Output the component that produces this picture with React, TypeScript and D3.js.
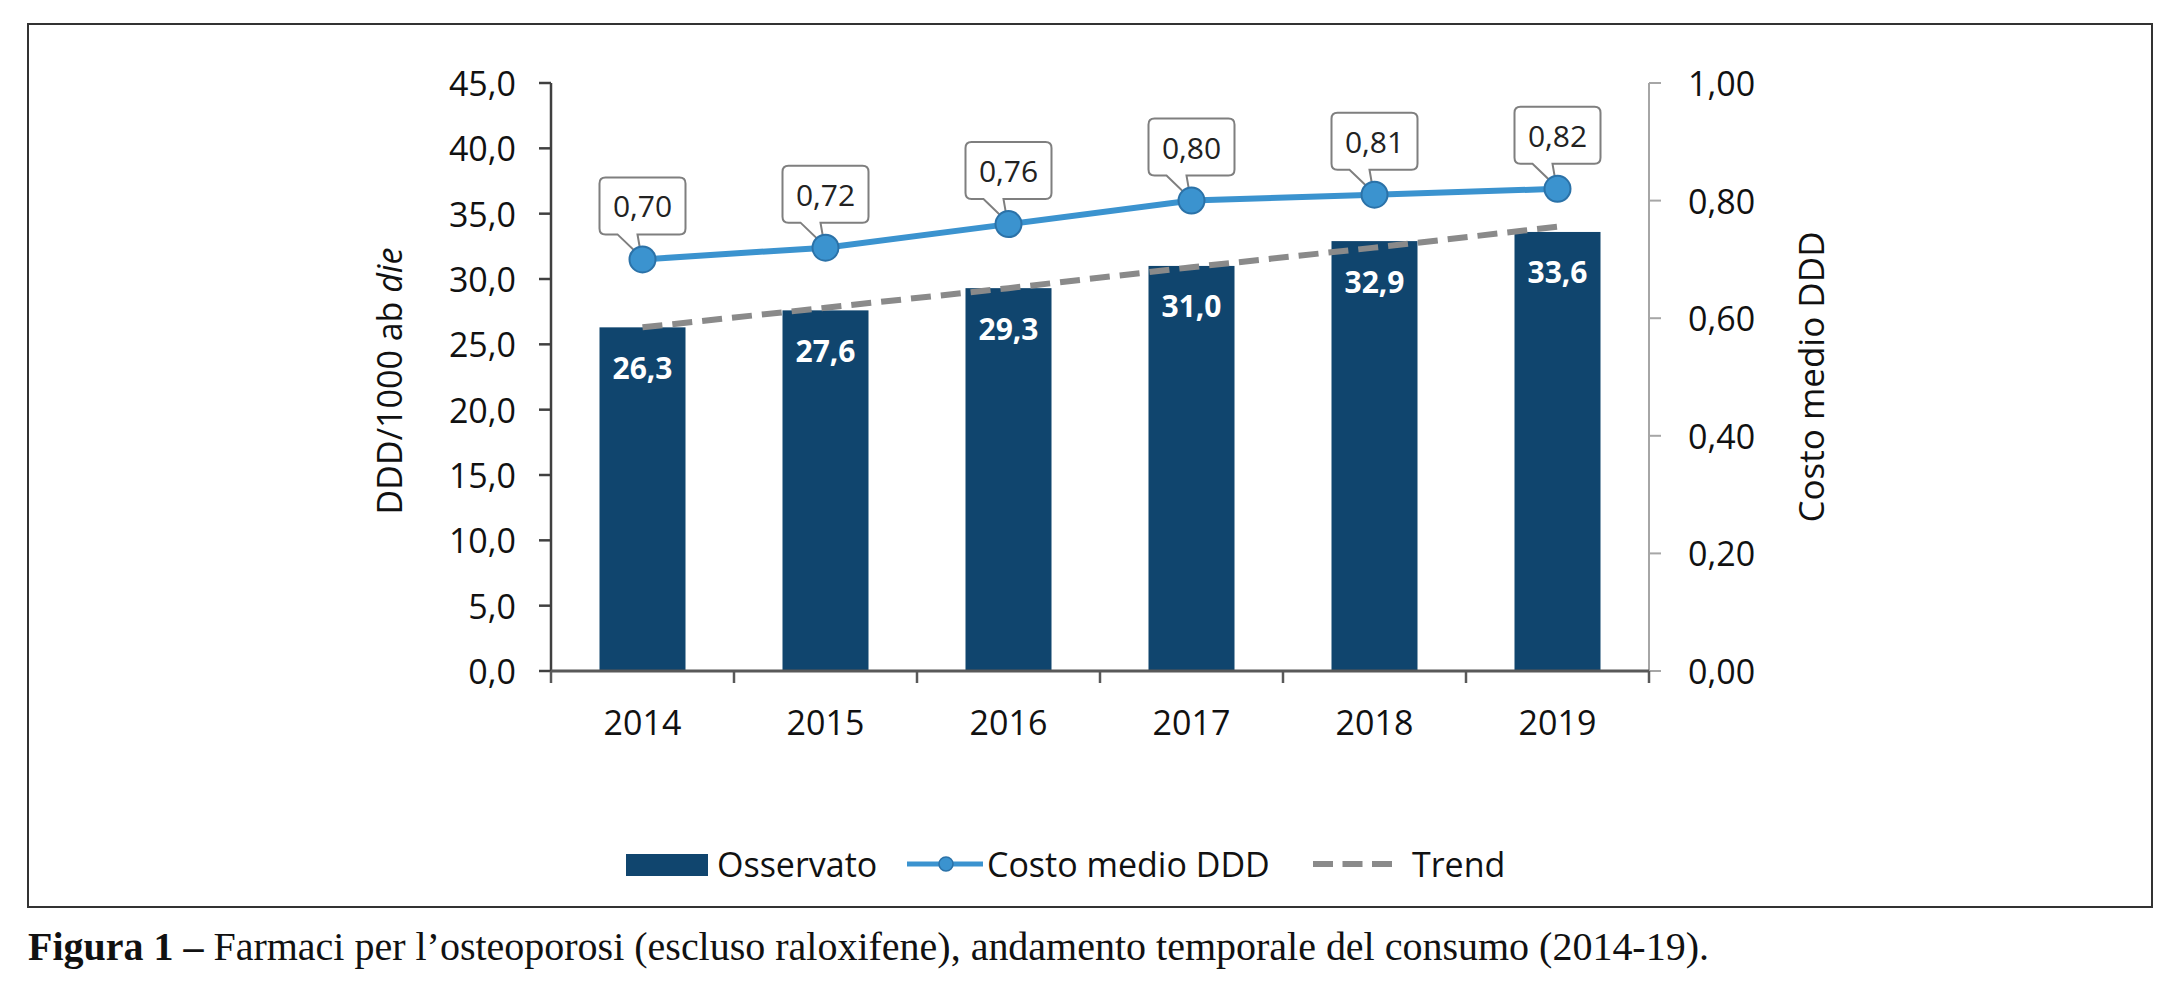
import * as d3 from "d3";
import { useMemo } from "react";

const years = ["2014", "2015", "2016", "2017", "2018", "2019"];
const observed = [26.3, 27.6, 29.3, 31.0, 32.9, 33.6];
const costoMedio = [0.7, 0.72, 0.76, 0.8, 0.81, 0.82];
const trend = [26.3, 27.8, 29.3, 30.9, 32.4, 34.0];
const leftTicks = [0, 5, 10, 15, 20, 25, 30, 35, 40, 45];
const rightTicks = [0, 0.2, 0.4, 0.6, 0.8, 1.0];

const W = 2179;
const H = 999;
const plot = { left: 551, right: 1649, top: 83, bottom: 671 };

const NAVY = "#10456e";
const BLUE = "#3b93cf";
const GREY = "#8a8a8a";
const FONT = "'Open Sans', sans-serif";

const it = d3.formatLocale({ decimal: ",", thousands: ".", grouping: [3], currency: ["€", ""] });
const f1 = it.format(".1f");
const f2 = it.format(".2f");

// rounded box with a small tail pointing down to the marker
function calloutPath(mx: number, my: number) {
  const w = 86;
  const h = 57;
  const r = 6;
  const x0 = mx - w / 2;
  const x1 = mx + w / 2;
  const y1 = my - 25;
  const y0 = y1 - h;
  return [
    `M${x0 + r},${y0}`,
    `H${x1 - r}`,
    `Q${x1},${y0} ${x1},${y0 + r}`,
    `V${y1 - r}`,
    `Q${x1},${y1} ${x1 - r},${y1}`,
    `H${mx - 5}`,
    `L${mx - 1},${my - 2}`,
    `L${mx - 25},${y1}`,
    `H${x0 + r}`,
    `Q${x0},${y1} ${x0},${y1 - r}`,
    `V${y0 + r}`,
    `Q${x0},${y0} ${x0 + r},${y0}`,
    "Z",
  ].join(" ");
}

export default function App() {
  const x = useMemo(
    () =>
      d3
        .scaleBand<string>()
        .domain(years)
        .range([plot.left, plot.right])
        .paddingInner(0.53)
        .paddingOuter(0.265),
    []
  );
  const yL = useMemo(() => d3.scaleLinear().domain([0, 45]).range([plot.bottom, plot.top]), []);
  const yR = useMemo(() => d3.scaleLinear().domain([0, 1]).range([plot.bottom, plot.top]), []);

  const cx = (d: string) => (x(d) ?? 0) + x.bandwidth() / 2;
  const step = x.step();

  const costLine = d3
    .line<number>()
    .x((_d, i) => cx(years[i]))
    .y((d) => yR(d))(costoMedio);

  const trendLine = d3
    .line<number>()
    .x((_d, i) => cx(years[i]))
    .y((d) => yL(d))(trend);

  return (
    <svg
      width={W}
      height={H}
      viewBox={`0 0 ${W} ${H}`}
      style={{ position: "absolute", left: 0, top: 0, background: "#fff" }}
    >
      <rect x={0} y={0} width={W} height={H} fill="#fff" />
      <rect x={28} y={24} width={2124} height={883} fill="none" stroke="#333" strokeWidth={2} />

      {/* bars */}
      {observed.map((v, i) => (
        <rect
          key={years[i]}
          x={x(years[i])}
          y={yL(v)}
          width={x.bandwidth()}
          height={yL(0) - yL(v)}
          fill={NAVY}
        />
      ))}

      {/* left axis */}
      <line x1={plot.left} x2={plot.left} y1={plot.top} y2={plot.bottom} stroke="#404040" strokeWidth={2.5} />
      {leftTicks.map((t) => (
        <g key={t}>
          <line x1={plot.left - 12} x2={plot.left} y1={yL(t)} y2={yL(t)} stroke="#404040" strokeWidth={2.5} />
          <text
            x={516}
            y={yL(t)}
            textAnchor="end"
            dominantBaseline="central"
            fontFamily={FONT}
            fontSize={34}
            fill="#111"
          >
            {f1(t)}
          </text>
        </g>
      ))}

      {/* right axis */}
      <line x1={plot.right} x2={plot.right} y1={plot.top} y2={plot.bottom} stroke="#a6a6a6" strokeWidth={2} />
      {rightTicks.map((t) => (
        <g key={t}>
          <line x1={plot.right} x2={plot.right + 12} y1={yR(t)} y2={yR(t)} stroke="#a6a6a6" strokeWidth={2} />
          <text
            x={1688}
            y={yR(t)}
            dominantBaseline="central"
            fontFamily={FONT}
            fontSize={34}
            fill="#111"
          >
            {f2(t)}
          </text>
        </g>
      ))}

      {/* x axis */}
      <line x1={plot.left} x2={plot.right} y1={plot.bottom} y2={plot.bottom} stroke="#595959" strokeWidth={3} />
      {d3.range(years.length + 1).map((i) => (
        <line
          key={i}
          x1={plot.left + i * step}
          x2={plot.left + i * step}
          y1={plot.bottom}
          y2={plot.bottom + 12}
          stroke="#595959"
          strokeWidth={2.5}
        />
      ))}
      {years.map((yr) => (
        <text
          key={yr}
          x={cx(yr)}
          y={722}
          textAnchor="middle"
          dominantBaseline="central"
          fontFamily={FONT}
          fontSize={34}
          fill="#111"
        >
          {yr}
        </text>
      ))}

      {/* axis titles */}
      <text
        transform="translate(389,381) rotate(-90)"
        textAnchor="middle"
        dominantBaseline="central"
        fontFamily={FONT}
        fontSize={34}
        fill="#111"
      >
        DDD/1000 ab <tspan fontStyle="italic">die</tspan>
      </text>
      <text
        transform="translate(1810,377) rotate(-90)"
        textAnchor="middle"
        dominantBaseline="central"
        fontFamily={FONT}
        fontSize={35}
        fill="#111"
      >
        Costo medio DDD
      </text>

      {/* trend */}
      <path d={trendLine ?? ""} fill="none" stroke={GREY} strokeWidth={6} strokeDasharray="20 10" />

      {/* cost line + callouts */}
      <path d={costLine ?? ""} fill="none" stroke={BLUE} strokeWidth={6} />
      {costoMedio.map((v, i) => (
        <path key={`c${i}`} d={calloutPath(cx(years[i]), yR(v))} fill="#fff" stroke="#7f7f7f" strokeWidth={2} />
      ))}
      {costoMedio.map((v, i) => (
        <circle key={`m${i}`} cx={cx(years[i])} cy={yR(v)} r={13} fill={BLUE} stroke="#2b72a8" strokeWidth={2} />
      ))}
      {costoMedio.map((v, i) => (
        <text
          key={`t${i}`}
          x={cx(years[i])}
          y={yR(v) - 25 - 28.5}
          textAnchor="middle"
          dominantBaseline="central"
          fontFamily={FONT}
          fontSize={30}
          fill="#222"
        >
          {f2(v)}
        </text>
      ))}

      {/* bar labels */}
      {observed.map((v, i) => (
        <text
          key={`b${i}`}
          x={cx(years[i])}
          y={yL(v) + 40}
          textAnchor="middle"
          dominantBaseline="central"
          fontFamily={FONT}
          fontWeight="bold"
          fontSize={30}
          fill="#fff"
        >
          {f1(v)}
        </text>
      ))}

      {/* legend */}
      <rect x={626} y={854} width={82} height={22} fill={NAVY} />
      <text x={717} y={864} dominantBaseline="central" fontFamily={FONT} fontSize={34} fill="#111">
        Osservato
      </text>
      <line x1={907} x2={983} y1={864} y2={864} stroke={BLUE} strokeWidth={5} />
      <circle cx={946} cy={864} r={7} fill={BLUE} stroke="#2b72a8" strokeWidth={1.5} />
      <text x={987} y={864} dominantBaseline="central" fontFamily={FONT} fontSize={34} fill="#111">
        Costo medio DDD
      </text>
      <line x1={1313} x2={1392} y1={864} y2={864} stroke={GREY} strokeWidth={6} strokeDasharray="20 9.5" />
      <text x={1412} y={864} dominantBaseline="central" fontFamily={FONT} fontSize={34} fill="#111">
        Trend
      </text>

      {/* caption */}
      <text
        x={28}
        y={960}
        fontFamily="'Liberation Serif', serif"
        fontSize={40}
        fill="#111"
        textLength={1681}
        lengthAdjust="spacingAndGlyphs"
      >
        <tspan fontWeight="bold">Figura 1 –</tspan> Farmaci per l’osteoporosi (escluso raloxifene), andamento
        temporale del consumo (2014-19).
      </text>
    </svg>
  );
}
